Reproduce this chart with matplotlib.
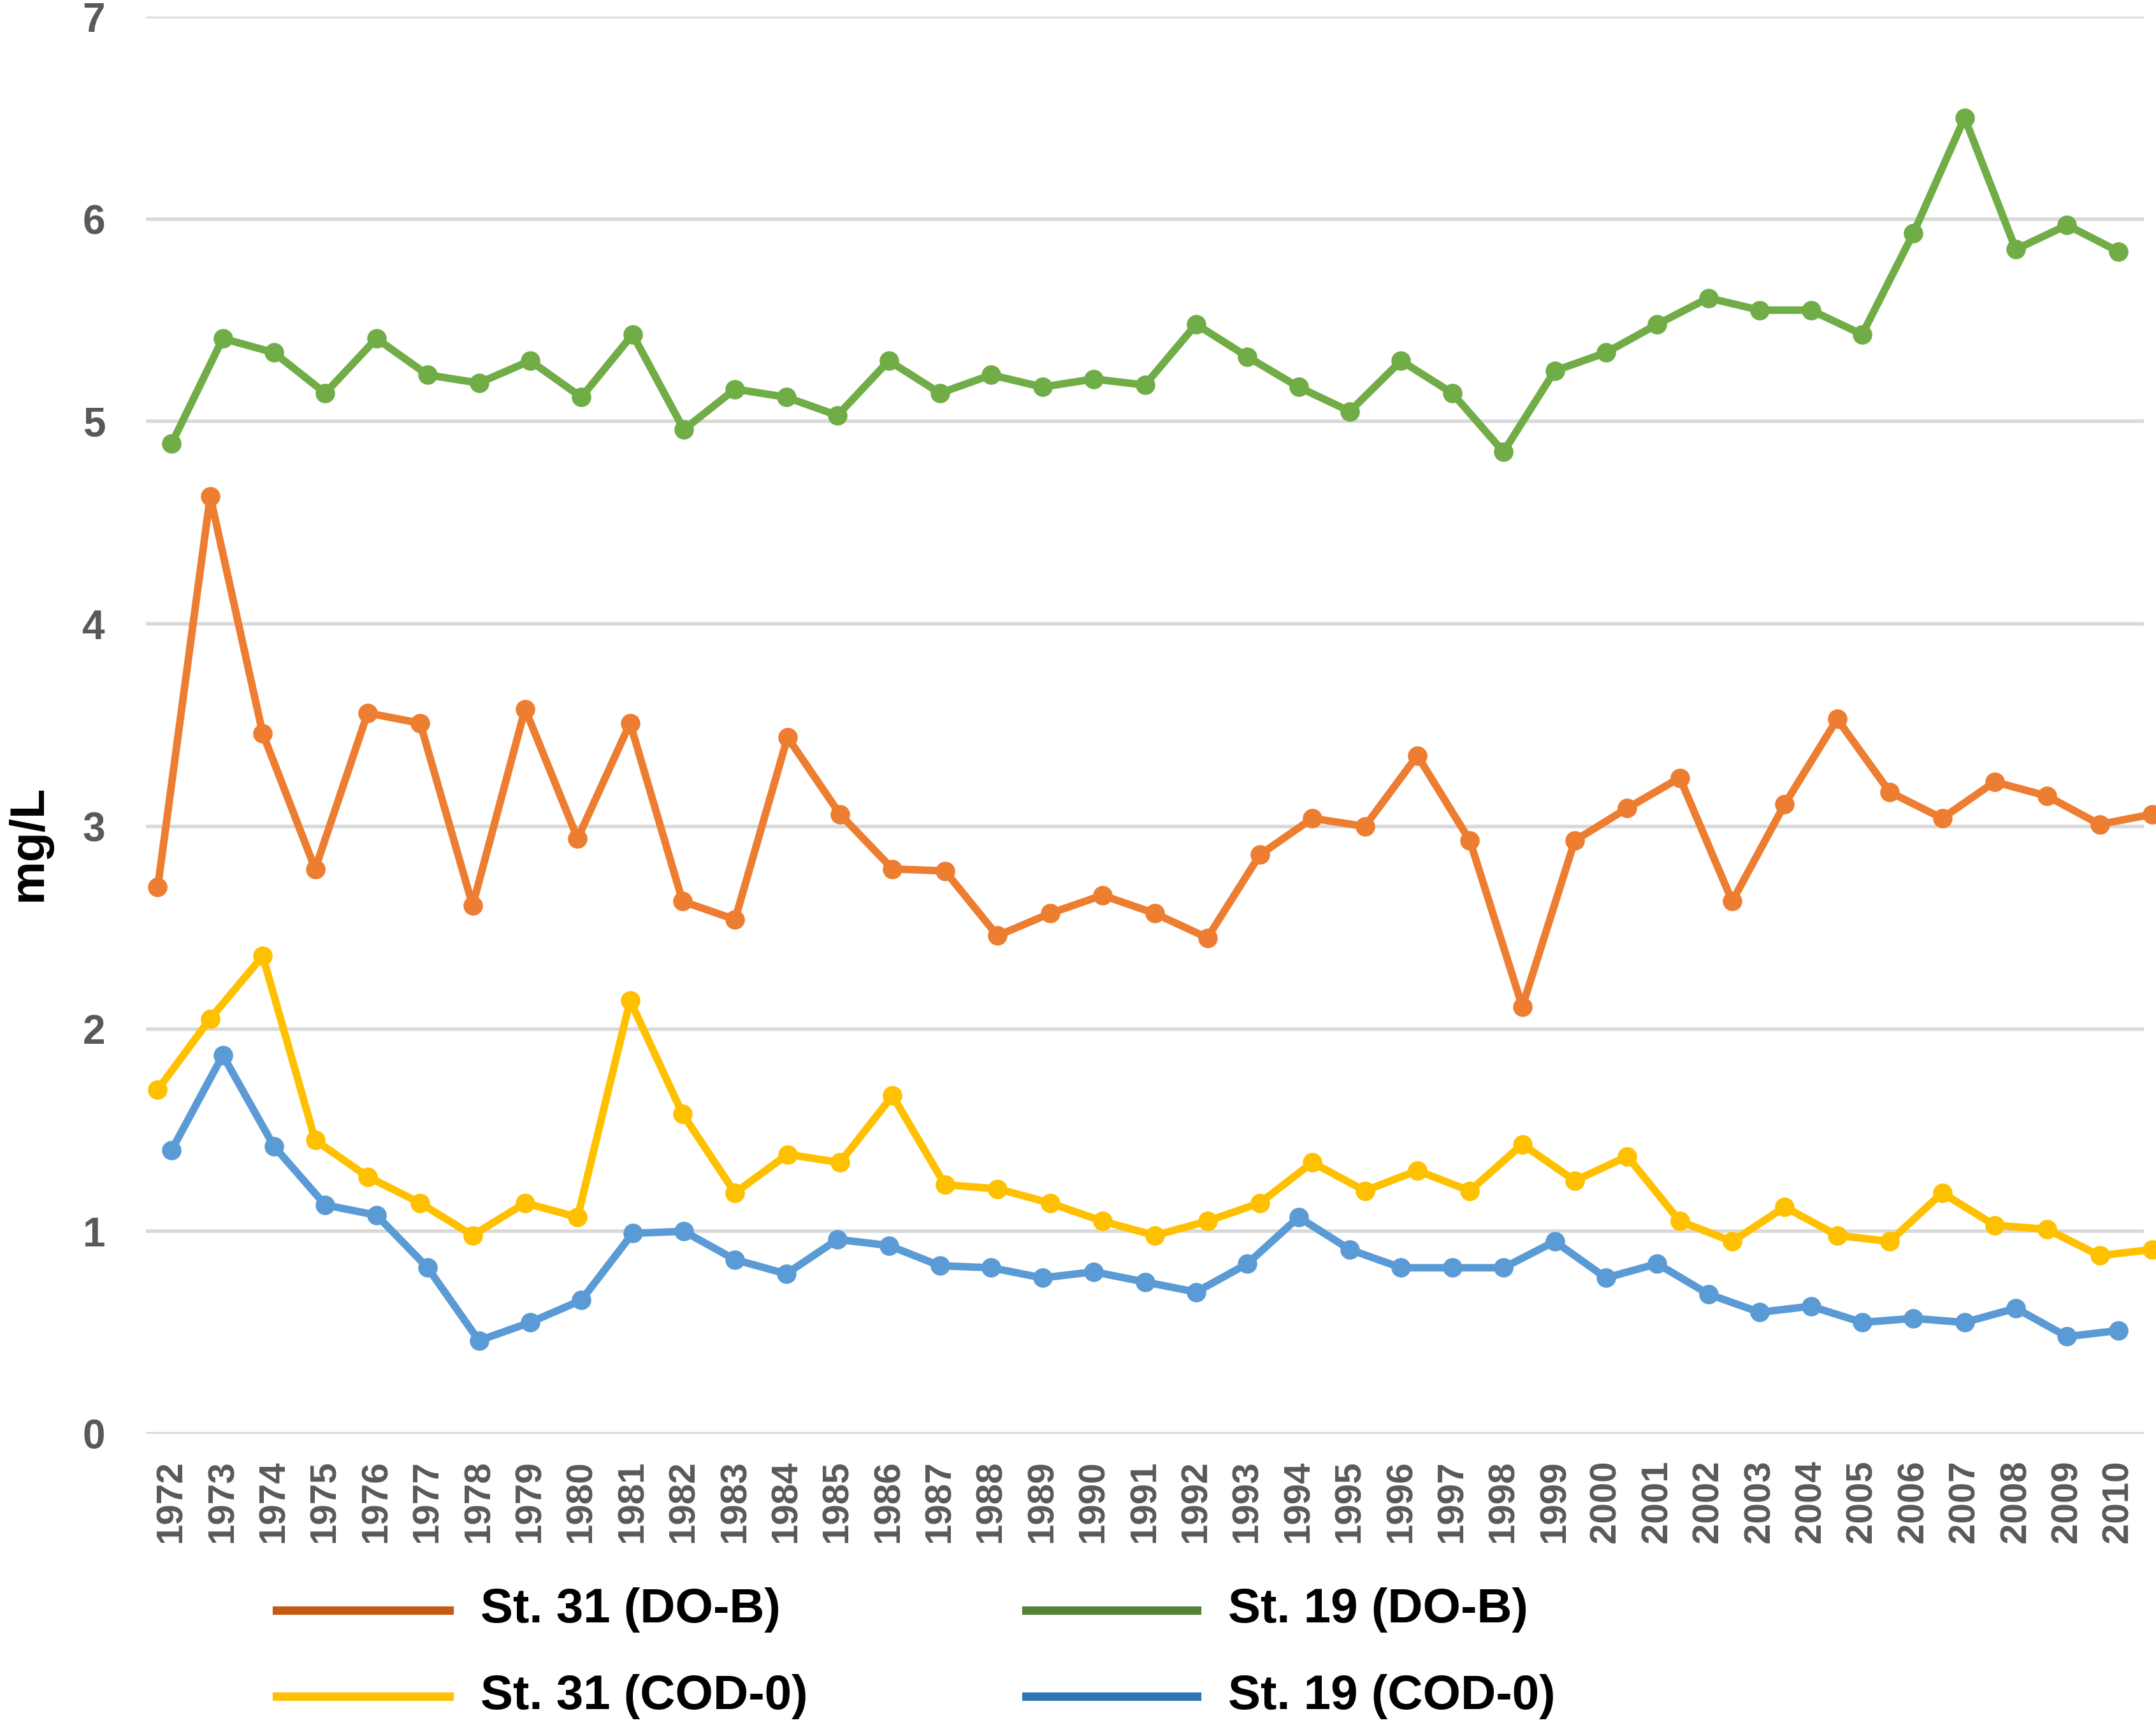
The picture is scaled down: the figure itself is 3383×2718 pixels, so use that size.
import numpy as np
import matplotlib
matplotlib.use("Agg")
import matplotlib.pyplot as plt
from matplotlib.lines import Line2D

plt.rcParams['font.family'] = ['Liberation Sans Narrow', 'Liberation Sans', 'DejaVu Sans']
plt.rcParams['font.weight'] = 'bold'

years = list(range(1972, 2011))

st31_do = [2.70, 4.63, 3.46, 2.79, 3.56, 3.51, 2.61, 3.58, 2.94, 3.51,
           2.63, 2.54, 3.44, 3.06, 2.79, 2.78, 2.46, 2.57, 2.66, 2.57,
           2.45, 2.86, 3.04, 3.00, 3.35, 2.93, 2.11, 2.93, 3.09, 3.24,
           2.63, 3.11, 3.53, 3.17, 3.04, 3.22, 3.15, 3.01, 3.06]
st19_do = [4.89, 5.41, 5.34, 5.14, 5.41, 5.23, 5.19, 5.30, 5.12, 5.43,
           4.96, 5.16, 5.12, 5.03, 5.30, 5.14, 5.23, 5.17, 5.21, 5.18,
           5.48, 5.32, 5.17, 5.05, 5.30, 5.14, 4.85, 5.25, 5.34, 5.48,
           5.61, 5.55, 5.55, 5.43, 5.93, 6.50, 5.85, 5.97, 5.84]
st31_cod = [1.70, 2.05, 2.36, 1.45, 1.27, 1.14, 0.98, 1.14, 1.07, 2.14,
            1.58, 1.19, 1.38, 1.34, 1.67, 1.23, 1.21, 1.14, 1.05, 0.98,
            1.05, 1.14, 1.34, 1.20, 1.30, 1.20, 1.43, 1.25, 1.37, 1.05,
            0.95, 1.12, 0.98, 0.95, 1.19, 1.03, 1.01, 0.88, 0.91]
st19_cod = [1.40, 1.87, 1.42, 1.13, 1.08, 0.82, 0.46, 0.55, 0.66, 0.99,
            1.00, 0.86, 0.79, 0.96, 0.93, 0.83, 0.82, 0.77, 0.80, 0.75,
            0.70, 0.84, 1.07, 0.91, 0.82, 0.82, 0.82, 0.95, 0.77, 0.84,
            0.69, 0.60, 0.63, 0.55, 0.57, 0.55, 0.62, 0.48, 0.51]

labels = ["St. 31 (DO-B)", "St. 19 (DO-B)", "St. 31 (COD-0)", "St. 19 (COD-0)"]
line_colors = ["#ED7D31", "#70AD47", "#FFC000", "#5B9BD5"]
key_colors = ["#C55A11", "#548235", "#FFC000", "#2E75B6"]

W, H = 3383, 2718
fig = plt.figure(figsize=(W / 100, H / 100), dpi=100)
ax = fig.add_axes([229 / W, 1 - 2250 / H, (3364 - 229) / W, (2250 - 26) / H])

yr = np.array(years)
# St. 31 points sit on a slightly stretched time axis in the source figure
x31 = 1971.73 + (yr - 1972) * 1.0245

series = [(x31, st31_do), (yr, st19_do), (x31, st31_cod), (yr, st19_cod)]
for (xs, ys), c in zip(series, line_colors):
    ax.plot(xs, ys, color=c, lw=8.5, marker='o', markersize=21,
            solid_joinstyle='round', clip_on=False, zorder=3)

ax.set_xlim(1971.5, 2010.5)
ax.set_ylim(0, 7)
ax.set_yticks(range(0, 8))
ax.set_xticks(years)
ax.set_xticklabels([str(y) for y in years], rotation=90)
ax.grid(axis='y', color='#D9D9D9', lw=4)
ax.grid(axis='x', visible=False)
for s in ax.spines.values():
    s.set_visible(False)
ax.tick_params(axis='both', length=0, colors='#595959')
ax.tick_params(axis='y', labelsize=46, pad=46)
ax.tick_params(axis='x', labelsize=42, pad=30)
for t in ax.get_xticklabels() + ax.get_yticklabels():
    t.set_fontweight('bold')

fig.text(45 / W, 1 - 1323 / H, "mg/L", rotation=90, ha='center', va='center',
         fontsize=55, fontweight='bold', color='black')

# legend keys drawn by hand, two columns
key_pos = [(434, 705, 754, 2527), (1610, 1878, 1927, 2527),
           (434, 705, 754, 2662), (1610, 1878, 1927, 2662)]
for (x0, x1, xt, yk), c, lab in zip(key_pos, key_colors, labels):
    fig.add_artist(Line2D([x0 / W, x1 / W], [1 - yk / H, 1 - yk / H],
                          transform=fig.transFigure, color=c, lw=9.5))
    fig.text(xt / W, 1 - yk / H, lab, ha='left', va='center',
             fontsize=55, fontweight='bold', color='black')

fig.savefig("out.png", dpi=100, facecolor='white')
